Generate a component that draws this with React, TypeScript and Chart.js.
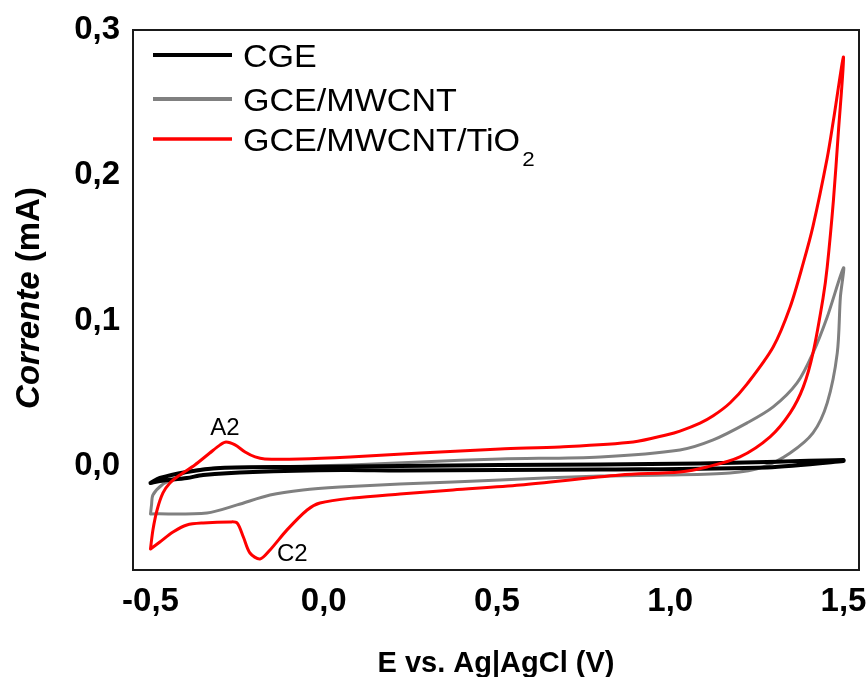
import React, { useEffect, useRef } from "react";
import { Chart, registerables } from "chart.js";
Chart.register(...registerables);

// ---- tick values ----
const xTicks = [-0.5, 0.0, 0.5, 1.0, 1.5];
const yTicks = [0.0, 0.1, 0.2, 0.3];
const xMin = -0.5505;
const xMax = 1.5447;
const yMin = -0.0716;
const yMax = 0.3;

// ---- series: CGE (black) ----
const cgePotential = [
  -0.5, -0.473, -0.395, -0.299, -0.069, 0.22, 0.509, 0.798, 1.086, 1.279, 1.5,
  1.5, 1.279, 0.798, 0.22, 0.055, -0.204, -0.348, -0.395, -0.473, -0.5,
];
const cgeCurrent = [
  -0.0117, -0.0083, -0.0041, -0.0014, -0.0007, 0.0, 0.0007, 0.001, 0.0017, 0.0028, 0.0041,
  0.0034, -0.001, -0.0024, -0.0031, -0.0028, -0.0041, -0.0062, -0.0083, -0.0103, -0.0117,
];

// ---- series: GCE/MWCNT (gray) ----
const mwcntPotential = [
  -0.5, -0.497, -0.493, -0.467, -0.429, -0.395, -0.308, -0.155, 0.076, 0.278, 0.509, 0.798,
  1.028, 1.124, 1.222, 1.297, 1.366, 1.412, 1.453, 1.5,
  1.491, 1.482, 1.453, 1.412, 1.346, 1.268, 1.172, 0.991, 0.798, 0.509, 0.373, 0.22, 0.047,
  -0.06, -0.155, -0.25, -0.337, -0.5,
];
const mwcntCurrent = [
  -0.033, -0.0268, -0.02, -0.0131, -0.0083, -0.0041, -0.0014, -0.0007, 0.0007, 0.0028, 0.0048, 0.0062,
  0.011, 0.0179, 0.0296, 0.0406, 0.0571, 0.0778, 0.1025, 0.1363,
  0.1163, 0.0778, 0.0434, 0.0227, 0.0089, -0.0007, -0.0048, -0.0062, -0.0069, -0.0096, -0.011, -0.0124, -0.0145,
  -0.0165, -0.02, -0.0268, -0.0323, -0.033,
];

// ---- series: GCE/MWCNT/TiO2 (red) ----
const tio2Potential = [
  -0.5, -0.493, -0.481, -0.464, -0.444, -0.415, -0.372, -0.329, -0.299, -0.282, -0.256, -0.227,
  -0.198, -0.17, -0.069, 0.076, 0.278, 0.509, 0.682, 0.893, 0.991, 1.028, 1.086, 1.124, 1.173,
  1.222, 1.297, 1.346, 1.384, 1.412, 1.453, 1.471, 1.5,
  1.485, 1.471, 1.453, 1.441, 1.412, 1.384, 1.346, 1.288, 1.201, 1.106, 1.028, 0.855, 0.567,
  0.373, 0.22, 0.085, -0.011, -0.048, -0.106, -0.155, -0.184, -0.213, -0.232, -0.25, -0.27,
  -0.348, -0.395, -0.435, -0.473, -0.5,
];
const tio2Current = [
  -0.0571, -0.044, -0.0303, -0.0186, -0.0117, -0.0062, 0.0007, 0.0089, 0.0145, 0.0165, 0.0145, 0.0096,
  0.0062, 0.0048, 0.0048, 0.0062, 0.0089, 0.0117, 0.0131, 0.0165, 0.0215, 0.024, 0.0295, 0.0345, 0.0435,
  0.0565, 0.0819, 0.1094, 0.1397, 0.165, 0.212, 0.238, 0.2814,
  0.2292, 0.1831, 0.137, 0.1156, 0.0778, 0.0544, 0.0365, 0.02, 0.0062, -0.0007, -0.0041, -0.0062, -0.0131,
  -0.0165, -0.0193, -0.022, -0.0255, -0.0303, -0.044, -0.0578, -0.064, -0.0599, -0.0489, -0.0392, -0.0385,
  -0.0392, -0.0406, -0.0454, -0.0523, -0.0571,
];

// ---- labels ----
const legendLabels = ["CGE", "GCE/MWCNT", "GCE/MWCNT/TiO"];
const legendColors = ["#000000", "#808080", "#ff0000"];
const legendWidths = [4, 4, 3.5];
const peakLabels = [
  { text: "A2", x: -0.285, y: 0.0213, align: "center" as CanvasTextAlign },
  { text: "C2", x: -0.135, y: -0.0654, align: "left" as CanvasTextAlign },
];
const xTitle = "E vs. Ag|AgCl (V)";
const yTitleItalic = "Corrente";
const yTitleRest = " (mA)";

const FONT = '"Liberation Sans", Arial, sans-serif';

const toPts = (xs: number[], ys: number[]) => xs.map((x, i) => ({ x, y: ys[i] }));
const fmt = (v: number) => Number(v).toFixed(1).replace(".", ",");

export default function App() {
  const ref = useRef<HTMLCanvasElement>(null);

  useEffect(() => {
    const canvas = ref.current!;
    const decor = {
      id: "decor",
      afterDraw(chart: any) {
        const { ctx, chartArea: a, scales } = chart;
        ctx.save();
        // frame
        ctx.strokeStyle = "#1a1a1a";
        ctx.lineWidth = 2;
        ctx.strokeRect(a.left, a.top, a.right - a.left, a.bottom - a.top);

        // legend
        const rowY = [55, 99, 139];
        const sx = 1.065;
        ctx.textAlign = "left";
        ctx.textBaseline = "alphabetic";
        legendLabels.forEach((lab, i) => {
          ctx.strokeStyle = legendColors[i];
          ctx.lineWidth = legendWidths[i];
          ctx.beginPath();
          ctx.moveTo(153, rowY[i]);
          ctx.lineTo(232, rowY[i]);
          ctx.stroke();
          ctx.fillStyle = "#000";
          ctx.save();
          ctx.translate(243, rowY[i] + 11.5);
          ctx.scale(sx, 1);
          ctx.font = `32px ${FONT}`;
          ctx.fillText(lab, 0, 0);
          if (i === 2) {
            const w = ctx.measureText(lab).width;
            ctx.font = `21px ${FONT}`;
            ctx.fillText("2", w + 2, 15);
          }
          ctx.restore();
        });

        // peak labels
        ctx.font = `24px ${FONT}`;
        ctx.fillStyle = "#000";
        peakLabels.forEach((p) => {
          ctx.textAlign = p.align;
          ctx.fillText(p.text, scales.x.getPixelForValue(p.x), scales.y.getPixelForValue(p.y));
        });

        // x title
        ctx.font = `bold 29px ${FONT}`;
        ctx.textAlign = "center";
        ctx.fillText(xTitle, (a.left + a.right) / 2, 672);

        // y title
        ctx.translate(30, 298);
        ctx.rotate(-Math.PI / 2);
        ctx.textBaseline = "middle";
        ctx.font = `italic bold 33px ${FONT}`;
        const w1 = ctx.measureText(yTitleItalic).width;
        ctx.font = `bold 33px ${FONT}`;
        const w2 = ctx.measureText(yTitleRest).width;
        const start = -(w1 + w2) / 2;
        ctx.textAlign = "left";
        ctx.font = `italic bold 33px ${FONT}`;
        ctx.fillText(yTitleItalic, start, 0);
        ctx.font = `bold 33px ${FONT}`;
        ctx.fillText(yTitleRest, start + w1, 0);
        ctx.restore();
      },
    };

    const chart = new Chart(canvas, {
      type: "scatter",
      data: {
        datasets: [
          {
            label: "GCE/MWCNT/TiO2",
            data: toPts(tio2Potential, tio2Current),
            borderColor: "#ff0000",
            borderWidth: 3,
            showLine: true,
            order: 0,
          },
          {
            label: "CGE",
            data: toPts(cgePotential, cgeCurrent),
            borderColor: "#000000",
            borderWidth: 4,
            showLine: true,
            order: 1,
          },
          {
            label: "GCE/MWCNT",
            data: toPts(mwcntPotential, mwcntCurrent),
            borderColor: "#808080",
            borderWidth: 3,
            showLine: true,
            order: 2,
          },
        ],
      },
      options: {
        responsive: false,
        animation: false,
        devicePixelRatio: 1,
        layout: { padding: { left: 0, top: 30, right: 7, bottom: 0 } },
        elements: {
          point: { radius: 0, hoverRadius: 0 },
          line: { tension: 0.3, fill: false, borderCapStyle: "round", borderJoinStyle: "round" },
        },
        plugins: {
          legend: { display: false },
          tooltip: { enabled: false },
          title: { display: false },
        },
        scales: {
          x: {
            type: "linear",
            min: xMin,
            max: xMax,
            grid: { display: false, drawTicks: false },
            border: { display: false },
            ticks: {
              color: "#000",
              font: { family: FONT, size: 33, weight: "bold" },
              padding: 12,
              maxRotation: 0,
              autoSkip: false,
              callback: (v: any) => fmt(v),
            },
            afterBuildTicks: (s: any) => {
              s.ticks = xTicks.map((v) => ({ value: v }));
            },
            afterFit: (s: any) => {
              s.height = 107;
              s.paddingLeft = 0;
              s.paddingRight = 0;
            },
          },
          y: {
            type: "linear",
            min: yMin,
            max: yMax,
            grid: { display: false, drawTicks: false },
            border: { display: false },
            ticks: {
              color: "#000",
              font: { family: FONT, size: 33, weight: "bold" },
              padding: 13,
              autoSkip: false,
              callback: (v: any) => fmt(v),
            },
            afterBuildTicks: (s: any) => {
              s.ticks = yTicks.map((v) => ({ value: v }));
            },
            afterFit: (s: any) => {
              s.width = 133;
              s.paddingTop = 0;
              s.paddingBottom = 0;
            },
          },
        },
      },
      plugins: [decor],
    } as any);
    return () => chart.destroy();
  }, []);

  return (
    <div style={{ position: "absolute", left: 0, top: 0, width: 866, height: 677, background: "#fff" }}>
      <canvas ref={ref} width={866} height={677} style={{ display: "block", width: 866, height: 677 }} />
    </div>
  );
}
